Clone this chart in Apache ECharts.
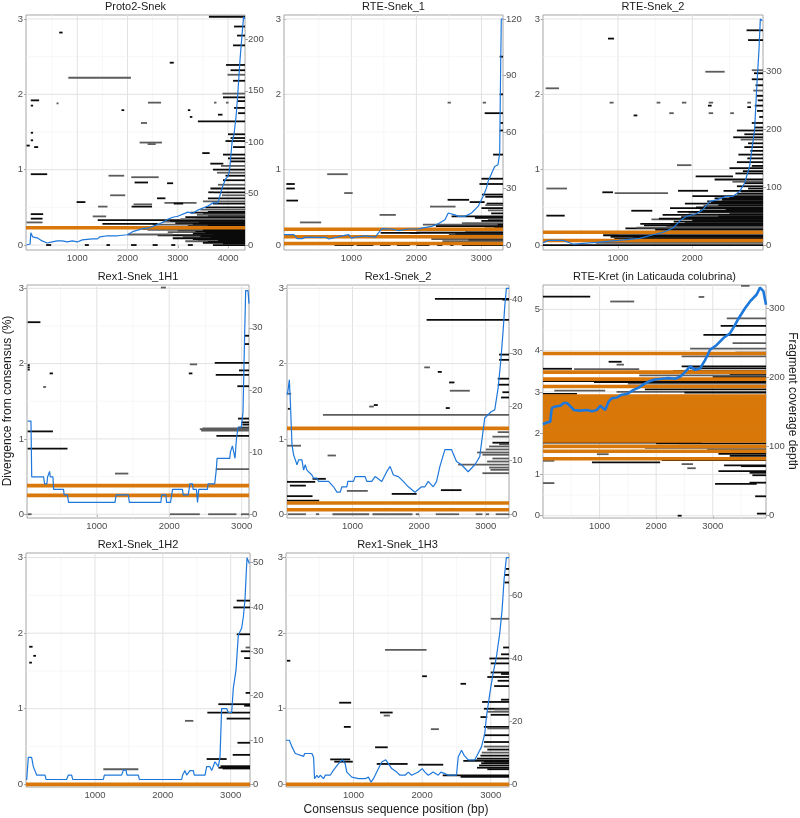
<!DOCTYPE html>
<html>
<head>
<meta charset="utf-8">
<script src="https://cdn.jsdelivr.net/npm/echarts@6/dist/echarts.min.js"></script>
<style>
  html, body { margin: 0; padding: 0; background: #fff; }
  #chart { width: 800px; height: 818px; }
</style>
</head>
<body>
<div id="chart"></div>
<script>
// fragments: [start, end, divergence, group]
const proto2Frags = [
  [3620,4340,3.03,0],[640,707,2.82,0],[821,2067,2.22,1],[2840,2920,2.42,0],
  [4120,4340,2.90,0],[4180,4340,2.78,0],[4100,4340,2.65,0],[3960,4340,2.39,0],[4050,4340,2.32,0],[3990,4340,2.26,1],
  [4100,4340,2.18,0],[3890,4340,2.01,1],[3900,4340,1.96,0],[4180,4340,1.91,0],[4120,4340,1.82,0],[4200,4340,1.75,0],
  [74,240,1.92,0],[74,120,1.85,0],[587,627,1.88,1],[1880,1934,1.79,0],[2407,2667,1.89,1],[3200,3250,1.79,0],
  [3240,3290,1.70,0],[3720,3770,1.89,1],[3960,4010,1.89,1],[3800,3890,1.73,0],[3400,4340,1.64,0],[2267,2387,1.62,1],
  [74,120,1.49,0],[74,120,1.39,0],[-10,54,1.32,0],[141,221,1.30,0],[2240,2687,1.36,1],[2400,2560,1.34,1],
  [3487,3634,1.22,0],[3647,3907,1.08,0],
  [4000,4340,1.47,0],[4050,4340,1.42,0],[3950,4340,1.38,0],[4100,4340,1.30,0],[3900,4340,1.20,0],[4000,4340,1.15,0],
  [4050,4340,1.11,0],[3860,4340,1.05,1],[3700,4340,1.00,0],[3780,4340,0.96,1],[3950,4340,0.92,0],[3900,4340,0.86,0],
  [3800,4340,0.80,1],[3650,4340,0.75,0],[3720,4340,0.70,0],[3880,4340,0.66,1],[3600,4340,0.62,0],[3500,4340,0.58,1],
  [3700,4340,0.55,0],[3550,4340,0.50,0],[3450,4340,0.47,1],[3600,4340,0.44,0],
  [74,401,0.94,0],[1621,1934,0.92,1],[2074,2620,0.90,1],[2140,2407,0.83,0],[2787,2907,0.82,0],[987,1161,0.57,0],
  [1654,1954,0.66,1],[1414,1601,0.51,1],[2081,2487,0.51,0],[2120,2487,0.54,1],[2587,2754,0.62,0],[2734,3374,0.56,1],
  [2920,3107,0.55,0],[3607,3720,0.70,0],[74,321,0.41,0],[74,308,0.35,0],[-10,308,0.30,1],[1307,1574,0.38,1],
  [1407,4340,0.33,0],
  [2700,4340,0.31,1],[2950,4340,0.29,0],[2500,4340,0.27,1],[3200,4340,0.25,0],[2300,4340,0.21,1],[3000,4340,0.19,0],
  [2800,4340,0.17,1],[3300,4340,0.15,0],[2600,4340,0.13,0],[3100,4340,0.11,1],[2900,4340,0.09,0],[3400,4340,0.07,0],
  [3150,4340,0.05,1],[3500,4340,0.03,0],[3600,4340,0.39,0],[3350,4340,0.36,1],[3500,4340,0.41,0],[1500,2600,0.28,0],
  [3250,4340,0.43,0],[3380,4340,0.40,1],[3150,4340,0.37,0],[3050,4340,0.345,1],[2850,4340,0.32,0],[3420,4340,0.30,0],
  [3300,4340,0.28,0],[3600,4340,0.26,0],[3250,4340,0.23,0],[3450,4340,0.20,0],[3350,4340,0.18,0],[3550,4340,0.16,0],
  [3700,4340,0.14,0],[3450,4340,0.12,0],[3650,4340,0.10,0],[3300,4340,0.08,0],[3800,4340,0.06,0],[3600,4340,0.04,0],
  [3900,4340,0.02,0],[2100,3300,0.24,1],[2400,3500,0.20,1],[2000,2900,0.14,1],
  [380,480,0,0],[1150,1230,0,0],[1580,1650,0,0],[2070,2180,0,0],[2500,2600,0,0],[2870,2950,0,0],[3200,3300,0,0],[3700,4340,0,0]
];
const proto2Full = [0.23];
// coverage: [position, depth]
const proto2Cover = [
  [-10,0],[60,1],[75,12],[100,12],[110,8],[200,7],[300,4],[400,2],[500,3],[600,4],[700,4],[800,3],[900,4],[1000,3],
  [1100,5],[1300,6],[1400,6],[1450,8],[1600,9],[1800,9],[2000,10],[2100,13],[2300,16],[2450,17],[2500,18],[2700,22],
  [2800,25],[2900,27],[3000,28],[3200,32],[3300,31],[3400,34],[3500,36],[3600,38],[3700,41],[3800,41],[3850,50],
  [3900,58],[3950,64],[4000,67],[4030,72],[4080,100],[4120,108],[4160,125],[4190,144],[4240,181],[4280,205],[4310,222],[4335,220]
];

const rte1Frags = [
  [0,130,0.81,0],[0,130,0.75,0],[0,180,0.59,0],[209,536,0.30,1],[628,944,0.94,1],[890,1020,0.69,1],[1434,1684,0.40,1],
  [2480,2530,1.89,1],[3020,3070,1.89,1],[3050,3332,1.75,0],[3280,3332,2.50,0],[3280,3332,2.00,0],[3290,3332,1.62,0],
  [3280,3332,1.52,0],[3180,3332,1.20,0],[3000,3332,0.88,0],[2970,3332,0.81,0],[3010,3332,0.67,0],[3060,3332,0.64,0],
  [3080,3332,0.55,0],[3060,3332,0.53,1],[3000,3332,0.49,0],[3100,3332,0.46,1],[2209,2602,0.51,1],[2480,2811,0.60,0],
  [2820,3050,0.57,0],[2541,3332,0.38,0],[2900,3332,0.36,0],[3100,3332,0.34,1],[3000,3332,0.32,0],[3200,3332,0.24,0],
  [3050,3332,0.22,0],[2900,3332,0.20,0],[2750,3332,0.18,1],[2600,3332,0.15,1],[2500,3332,0.13,0],[1900,3332,0.16,0],
  [2650,3332,0.10,0],[2230,3332,0.08,1],[2800,3332,0.06,0],[2400,3332,0.05,1],[1450,2050,0.16,0],
  [2100,3332,0.27,1],[2300,3332,0.25,0],[2700,3332,0.29,1],[2000,3332,0.19,1],[2850,3332,0.12,0],[3150,3332,0.42,0],
  [3250,3332,0.27,0],
  [740,1036,0,0],[1080,1340,0,0],[1440,1600,0,0],[1700,1900,0,0],[2000,2200,0,0],[2320,2400,0,0],[2520,2570,0,0],[2700,3332,0,0]
];
const rte1Full = [0.21, 0.11, 0.02];
const rte1Cover = [
  [-36,5.5],[117,5.5],[168,3.4],[244,3.4],[296,4.2],[602,4.1],[653,3.2],[857,4.9],[959,5.5],[1000,3.7],[1061,4.2],
  [1214,4.9],[1367,4.2],[1469,8.7],[1622,8.5],[1724,7.6],[1878,8.5],[2031,8.5],[2082,9],[2235,9.9],[2337,11.3],
  [2439,13.4],[2490,17],[2592,16],[2643,15.2],[2745,15.2],[2847,17],[2949,20.5],[3025,25.8],[3077,30.2],[3102,33.7],
  [3204,41.7],[3255,42.6],[3281,48.8],[3296,94.7],[3306,120],[3332,120]
];

const rte2Frags = [
  [865,946,2.74,0],[27,206,2.08,1],[887,940,1.89,1],[1210,1260,1.72,0],[1520,1570,1.89,1],[1690,1750,1.75,1],
  [1860,1920,1.89,1],[2220,2280,1.89,1],[2210,2260,1.85,0],[2220,2280,1.75,1],[2510,2560,1.75,1],[2740,2790,1.89,1],
  [2740,2790,1.83,0],[2175,2435,2.30,1],[2730,2951,2.85,0],[2750,2951,2.72,0],[2800,2951,2.32,1],[2830,2951,2.28,0],
  [2800,2951,2.20,0],[2850,2951,2.12,0],[2820,2951,2.05,1],[2860,2951,1.98,0],[2880,2951,1.92,0],[2840,2951,1.85,0],
  [2870,2951,1.78,0],[2900,2951,1.70,0],[2800,2951,1.62,0],[2840,2951,1.56,0],[2600,2951,1.52,0],[2700,2951,1.47,0],
  [2550,2951,1.43,0],[2650,2951,1.40,1],[2750,2951,1.35,0],[2700,2951,1.30,0],[2780,2951,1.25,0],[2620,2951,1.20,0],
  [2740,2951,1.15,0],[2600,2951,1.10,0],[2800,2951,1.05,0],[2500,2951,1.02,0],[2680,2951,0.98,0],[2580,2951,0.95,0],
  [2045,2547,0.91,0],[2300,2951,0.87,0],[2540,2951,0.84,1],[2700,2951,0.82,0],[2600,2951,0.78,0],[2750,2951,0.75,0],
  [2420,2951,0.72,0],[1794,1987,1.06,1],[36,314,0.75,1],[36,283,0.39,0],[789,933,0.70,0],[955,1673,0.69,1],
  [1807,2211,0.72,0],[1179,1462,0.455,0],[2000,2951,0.65,0],[2300,2951,0.62,0],[2200,2951,0.58,0],[1900,2951,0.55,0],
  [2150,2951,0.52,1],[1700,2951,0.49,0],[2100,2951,0.46,0],[1950,2951,0.43,1],[1600,2951,0.40,0],[1850,2951,0.37,0],
  [1450,2951,0.34,1],[1750,2951,0.31,0],[1300,2951,0.28,0],[1650,2951,0.25,1],[1100,2951,0.22,0],[1500,2951,0.20,0],
  [800,2951,0.13,0],[1200,2951,0.10,1],[950,2951,0.08,0],[700,2951,0.03,1],[2400,2951,0.60,0],[2250,2951,0.56,0],
  [2050,2951,0.50,0],[1800,2951,0.44,0],[1550,2951,0.35,0],[1350,2951,0.26,0],[2600,2951,0.68,0],[2450,2951,0.47,0],
  [1250,2951,0.23,1],[1900,2951,0.29,0],[1000,2951,0.15,1],[2500,2951,0.41,0],[2350,2951,0.38,0],
  [1350,2951,0.17,0],[1600,2951,0.18,1],[2000,2951,0.33,0],[2200,2951,0.36,0],[1700,2951,0.27,0],[2650,2951,0.71,0],
  [2500,2951,0.63,0],[2350,2951,0.53,0],[900,2951,0.11,0],[1150,2951,0.12,0],
  [-9,798,0,0],[798,2951,0,0]
];
const rte2Full = [0.17, 0.06];
const rte2Cover = [
  [-9,3.4],[58,8],[260,8],[395,1.7],[709,4.6],[1000,8],[1291,11.5],[1471,17.8],[1605,21.8],[1740,29.3],[1852,43.7],
  [1919,49.4],[2054,54],[2143,61],[2233,75],[2323,78],[2457,84],[2547,84],[2637,92.5],[2704,107],[2771,136],
  [2838,199],[2870,279],[2897,337],[2915,390],[2942,387]
];

const rex1h1Frags = [
  [46,222,2.55,0],[46,75,1.98,0],[46,75,1.95,0],[46,75,1.92,0],[349,395,1.87,0],[260,300,1.69,1],[46,395,1.10,0],
  [46,596,0.87,0],[1252,1436,0.54,1],[1885,1954,3.01,1],[2284,2385,1.99,1],[2270,2320,1.87,0],[2628,3101,2.01,0],
  [2642,3101,1.85,0],[2963,3101,1.91,0],[2940,3101,1.70,0],[3041,3101,2.37,0],[3041,3101,2.26,0],[2950,3101,1.27,0],
  [3000,3101,1.22,0],[3010,3101,1.19,0],[2950,3101,1.15,0],[2422,3101,1.13,1],[2440,3101,1.11,1],[2460,3101,1.14,1],
  [2651,3101,1.04,0],[2642,3101,0.60,1],[2009,2422,0,1],[2537,2927,0,1],[2990,3101,0,1],[46,100,0,1]
];
const rex1h1Full = [0.38, 0.25];
const rex1h1Cover = [
  [46,15],[92,15],[102,6],[266,6],[280,4.9],[312,4.9],[321,6],[349,6.9],[358,6],[395,6],[404,4],[541,4],[550,3.1],
  [596,3.1],[610,1.9],[1252,1.9],[1266,3.1],[1436,3.1],[1450,1.9],[1885,1.9],[1894,3.1],[1954,3.1],[1963,1.9],
  [2018,1.9],[2046,4],[2183,4],[2193,3.1],[2261,3.1],[2275,4],[2284,4.9],[2321,4.9],[2330,4],[2376,4],[2390,1.9],
  [2408,4],[2527,4],[2537,4.9],[2628,4.9],[2651,7.3],[2660,9],[2835,9],[2844,10],[2872,11],[2894,11],[2908,9],
  [2927,12],[2949,14],[2995,14],[3018,16.4],[3041,29],[3055,36],[3087,36],[3101,33.9]
];

const rex1s2Frags = [
  [2237,3349,2.86,0],[2112,3349,2.58,0],[3250,3349,2.85,0],[3200,3349,2.12,0],[3200,3349,2.05,0],[3180,3349,1.80,0],
  [3180,3349,1.72,0],[3250,3349,1.62,0],[3230,3349,1.55,0],[2077,2162,1.95,1],[2280,2340,1.89,0],[2450,2530,1.75,0],
  [2461,2761,1.64,1],[2400,2460,1.41,0],[1250,1320,1.43,1],[1320,1380,1.45,0],[556,3349,1.32,1],[30,80,1.60,1],
  [30,60,1.40,0],[17,227,0.91,1],[626,751,0.78,1],[17,441,0.43,0],[60,300,0.38,0],[17,400,0.24,0],[17,500,0.18,0],
  [400,600,0.47,0],[915,1229,0.31,1],[1589,1963,0.27,0],[2327,2636,0.32,0],[2586,3349,0.66,1],[2870,3349,0.82,1],
  [2950,3349,0.545,1],[3070,3349,0.59,1],[3050,3349,0.62,1],[3020,3349,0.70,1],[3100,3349,0.74,1],[2950,3349,0.79,1],
  [3000,3349,0.86,1],[3050,3349,0.90,1],[3200,3349,0.93,1],[3100,3349,1.03,1],[3180,3349,1.09,1],[3100,3349,0.95,0],
  [30,300,0,1],[450,500,0,1],[700,1250,0,1],[1300,1900,0,1],[1950,2000,0,1],[2250,2600,0,1],[2850,2950,0,1],
  [3000,3050,0,1],[3150,3349,0,1]
];
const rex1s2Full = [1.14, 0.15, 0.06];
const rex1s2Cover = [
  [17,22.2],[32,23],[52,25],[67,21],[92,12.9],[117,11],[142,10.1],[167,9.2],[192,10.1],[241,10.1],[266,8.2],[291,9.2],
  [316,8.2],[391,7.3],[416,6.7],[466,6.7],[491,6.1],[641,6.1],[716,5.1],[766,4.1],[816,4.1],[841,5.1],[915,5.1],
  [930,6.1],[1015,6.1],[1040,7],[1190,7],[1214,6.1],[1289,6.1],[1339,7],[1439,6.1],[1514,7.9],[1564,8.9],[1614,7.3],
  [1688,7],[1763,6.1],[1838,5.1],[1938,4.1],[2037,5.1],[2087,5.1],[2137,6.1],[2212,5.1],[2262,6.1],[2312,8.9],
  [2387,12],[2487,12],[2561,9.8],[2636,9.2],[2736,7.9],[2836,9.2],[2910,10.7],[2985,17.9],[3085,19.1],[3135,19.4],
  [3185,23.4],[3225,28.4],[3260,34],[3285,38.6],[3310,42],[3349,42]
];

const kretFrags = [
  [0,835,5.31,0],[1188,1612,5.19,1],[2750,2850,5.30,1],[3500,3650,5.57,1],[3247,3941,4.78,1],[3140,3941,4.60,0],
  [2835,3941,4.38,0],[3350,3941,4.18,1],[2600,3941,4.05,1],[3400,3941,3.95,0],[2450,3941,3.86,1],[1160,1390,3.73,0],
  [1300,1430,3.66,1],[0,512,3.56,0],[550,1700,3.55,1],[2450,3941,3.62,0],[2600,3941,3.57,0],[2300,3941,3.50,0],
  [1700,3941,3.40,1],[0,2000,3.26,0],[200,1100,3.03,1],[0,600,2.95,0],[1300,3941,3.00,1],[1800,3941,3.06,0],
  [2500,3941,2.98,0],[2000,3941,3.12,1],[1500,3941,3.20,1],[900,3941,3.24,0],[3000,3941,3.36,0],[3300,3941,3.44,0],
  [1300,3941,2.85,0],[2200,3941,2.75,1],[0,3941,1.98,0],[1000,3941,2.40,1],[2800,3941,2.20,0],[3200,3941,2.55,0],
  [0,2800,1.77,0],[2000,3941,1.75,0],[2400,3941,1.70,1],[1800,3941,1.65,0],[2900,3941,1.60,1],[2700,3941,1.55,0],
  [3100,3941,1.50,0],[3300,3941,1.45,0],[3450,3941,1.40,1],[2100,3941,1.35,0],[865,2070,1.29,0],[953,1159,1.49,1],
  [0,200,1.33,1],[2450,2650,1.25,1],[2550,2700,1.15,1],[3200,3941,1.22,0],[3500,3941,1.20,0],[3100,3941,1.08,0],
  [3650,3941,1.04,0],[3700,3941,0.98,0],[0,200,0.79,1],[3041,3776,0.77,0],[3650,3941,0.80,0],[3750,3941,0.47,0],
  [2380,2450,0,0],[3780,3941,0.05,0]
];
const kretFull = [
  3.93,3.48,3.31,3.13,2.90,2.87,2.84,2.80,2.77,2.73,2.70,2.66,2.63,2.56,2.53,2.49,2.46,2.42,2.39,2.35,2.32,2.28,
  2.25,2.21,2.18,2.14,2.11,2.07,2.04,2.01,1.94,1.91,1.88,1.81,1.68,1.56,1.38
];
const kretCover = [
  [0,132],[41,134],[129,136],[141,147],[159,156],[218,158],[306,159],[365,163],[424,163],[512,156],[541,153],
  [659,152],[776,153],[865,151],[953,153],[1012,159],[1100,153],[1159,165],[1218,170],[1306,171],[1394,175],
  [1482,176],[1600,182],[1688,185],[1776,190],[1865,194],[1982,197],[2100,198],[2218,199],[2335,198],[2423,201],
  [2512,208],[2600,216],[2688,211],[2776,213],[2864,225],[2953,240],[3070,247],[3188,257],[3306,264],[3394,276],
  [3453,285],[3570,300],[3659,310],[3776,320],[3835,330],[3894,325],[3941,305]
];

const rex1h2Frags = [
  [30,80,1.82,0],[90,130,1.70,0],[30,70,1.61,0],[1123,1639,0.20,1],[2327,2450,0.84,1],[2646,2941,0.335,0],
  [2820,3285,0.22,0],[2850,3285,0.24,0],[2880,3285,0.21,0],[3030,3285,0.39,0],[3100,3285,0.55,0],[2656,3285,0.95,0],
  [2818,3285,1.06,0],[2941,3285,0.87,0],[3200,3285,1.04,0],[3220,3285,1.21,0],[3200,3285,1.67,0],[3220,3285,1.81,1],
  [3150,3285,1.76,0],[3089,3285,1.985,0],[3039,3285,2.34,0],[3089,3285,2.43,0]
];
const rex1h2Full = [0];
const rex1h2Cover = [
  [-7,1],[17,6.1],[66,6.1],[91,4],[115,4],[140,2.1],[263,2.1],[278,1.1],[582,1.1],[607,2.1],[656,2.1],[671,1.1],
  [1123,1.1],[1138,2.1],[1393,2.1],[1418,3.2],[1457,3.2],[1472,2.1],[1639,2.1],[1654,1.1],[2278,1.1],[2292,2.1],
  [2327,3.1],[2351,2.1],[2400,3.1],[2450,3.1],[2464,2.1],[2622,2.1],[2646,4],[2695,4],[2720,3.1],[2745,3.1],
  [2769,5.1],[2818,4],[2843,6.2],[2867,17.1],[2941,17.1],[2966,16.2],[3015,16.2],[3039,21.7],[3079,25.8],
  [3113,33.7],[3138,33.7],[3162,35.2],[3187,37.8],[3211,41.6],[3226,46.5],[3241,51.1],[3275,49.8]
];

const rex1h3Frags = [
  [30,80,1.635,0],[792,966,1.08,0],[860,960,0.76,0],[661,952,0.33,0],[720,990,0.30,0],[1315,1499,0.49,0],
  [1387,1571,0.95,0],[1440,1530,0.91,1],[1339,1789,0.27,0],[1460,2065,1.78,1],[2000,2070,1.43,0],[1944,2308,0.26,0],
  [2128,2245,0.73,1],[2560,2640,1.33,0],[2300,3266,0.12,0],[2560,3266,0.10,0],[2903,3266,0.56,0],[2900,3266,0.50,1],
  [2950,3266,0.46,0],[2870,3266,0.42,1],[2850,3266,0.38,0],[2800,3266,0.34,0],[2760,3266,0.32,1],[2900,3266,0.30,0],
  [2860,3266,0.28,0],[2830,3266,0.25,0],[2800,3266,0.22,0],[2950,3266,0.20,0],[2600,3266,0.31,0],[2850,2950,0.89,0],
  [2900,3266,1.00,0],[2950,3266,0.96,1],[3000,3266,0.92,0],[2900,3266,0.76,0],[2950,3266,0.74,1],[3050,3266,0.99,1],
  [2900,3266,0.65,0],[2950,3266,1.42,0],[3100,3266,1.37,0],[3000,3266,1.48,0],[3150,3266,1.46,0],[3000,3266,1.60,0],
  [2980,3266,1.665,0],[3150,3266,1.72,0],[3180,3266,1.81,0],[3000,3266,2.19,1],[3200,3266,2.77,0],[3220,3266,2.85,0],
  [3200,3266,2.67,0],[3050,3266,1.30,0],[3150,3266,1.12,0],[2874,3266,1.09,0]
];
const rex1h3Full = [0];
const rex1h3Cover = [
  [17,14],[66,14],[104,11.9],[153,9.8],[274,8.9],[289,9.8],[395,9.8],[419,8.5],[433,1.8],[467,2.9],[491,2.1],
  [516,2.9],[564,1.8],[588,2.9],[661,2.9],[709,4.5],[782,6.6],[840,7.8],[879,6.6],[903,3.9],[976,2.3],[1073,1.8],
  [1170,1.8],[1218,2.3],[1257,0.7],[1291,1.8],[1339,3.9],[1412,7.1],[1470,7.8],[1509,6.6],[1557,5],[1630,3.9],
  [1678,2.9],[1751,2.9],[1799,3.9],[1848,2.9],[1944,3.9],[2002,5],[2041,3.9],[2090,2.9],[2162,3.9],[2235,2.9],
  [2274,3.9],[2332,3.4],[2380,2.9],[2501,2.9],[2526,8.7],[2574,10.8],[2613,9.2],[2671,7.8],[2768,7.8],[2816,9.8],
  [2865,11.9],[2913,16.1],[2937,21.4],[2986,28.8],[3034,35.2],[3083,40.5],[3131,47.9],[3165,55.3],[3194,64.9],
  [3228,72],[3266,72]
];

const panelNames = ['Proto2-Snek','RTE-Snek_1','RTE-Snek_2','Rex1-Snek_1H1','Rex1-Snek_2',
  'RTE-Kret (in Laticauda colubrina)','Rex1-Snek_1H2','Rex1-Snek_1H3'];
const fragSets = [proto2Frags, rte1Frags, rte2Frags, rex1h1Frags, rex1s2Frags, kretFrags, rex1h2Frags, rex1h3Frags];
const fullSets = [proto2Full, rte1Full, rte2Full, rex1h1Full, rex1s2Full, kretFull, rex1h2Full, rex1h3Full];
const coverSets = [proto2Cover, rte1Cover, rte2Cover, rex1h1Cover, rex1s2Cover, kretCover, rex1h2Cover, rex1h3Cover];

// axis ranges and tick labels
const xRange = [[-21,4338],[-36,3332],[-9,2951],[37,3101],[17,3349],[0,3941],[-17,3285],[17,3266]];
const yRange = [[-0.066,3.053],[-0.066,3.053],[-0.066,3.053],[-0.05,3.044],[-0.05,3.044],[-0.056,5.59],[-0.035,3.06],[-0.035,3.06]];
const depthPerUnit = [73.3, 40, 130, 12.12, 14, 59.7, 17.05, 24];
const xTicks = [[1000,2000,3000,4000],[1000,2000,3000],[1000,2000],[1000,2000,3000],[1000,2000,3000],[1000,2000,3000],[1000,2000,3000],[1000,2000,3000]];
const yTicks = [[0,1,2,3],[0,1,2,3],[0,1,2,3],[0,1,2,3],[0,1,2,3],[0,1,2,3,4,5],[0,1,2,3],[0,1,2,3]];
const depthTicks = [[0,50,100,150,200],[0,30,60,90,120],[0,100,200,300],[0,10,20,30],[0,10,20,30,40],[0,100,200,300],[0,10,20,30,40,50],[0,20,40,60]];

// layout [left, top, width, height]
const boxes = [
  [26,15,219,235],[284,15,219,235],[543,15,220,235],
  [27,285,222,233],[287,285,222,233],[543,285,223,233],
  [26,553,224,234],[286,553,223,234]
];

const FONT = '"Liberation Sans", Arial, Helvetica, sans-serif';
const LABEL = '#4d4d4d';
const ORANGE = '#D9780A';
const BLUE = '#1E78DC';

let chart = echarts.init(document.getElementById('chart'));

let grid = [], xAxis = [], yAxis = [], series = [], graphic = [];

boxes.forEach((b, i) => {
  grid.push({left: b[0], top: b[1], width: b[2], height: b[3], show: true,
    backgroundColor: '#fff', borderColor: '#a6a6a6', borderWidth: 1});
  const tickStyle = {length: 3, lineStyle: {color: '#a6a6a6', width: 1}};
  const labelStyle = {color: LABEL, fontSize: 9.5, fontFamily: FONT, formatter: v => String(v)};
  xAxis.push({gridIndex: i, type: 'value', min: xRange[i][0], max: xRange[i][1],
    axisLine: {show: false}, splitLine: {show: false},
    axisTick: Object.assign({customValues: xTicks[i]}, tickStyle),
    axisLabel: Object.assign({customValues: xTicks[i], margin: 3}, labelStyle)});
  yAxis.push({gridIndex: i, type: 'value', position: 'left', min: yRange[i][0], max: yRange[i][1],
    axisLine: {show: false}, splitLine: {show: false},
    axisTick: Object.assign({customValues: yTicks[i]}, tickStyle),
    axisLabel: Object.assign({customValues: yTicks[i], margin: 3}, labelStyle)});
  const k = depthPerUnit[i];
  yAxis.push({gridIndex: i, type: 'value', position: 'right', min: yRange[i][0] * k, max: yRange[i][1] * k,
    axisLine: {show: false}, splitLine: {show: false},
    axisTick: Object.assign({customValues: depthTicks[i]}, tickStyle),
    axisLabel: Object.assign({customValues: depthTicks[i], margin: 3}, labelStyle)});

  // grid lines (major at ticks, minor halfway)
  const gl = [];
  xTicks[i].forEach(v => gl.push([v, 0, 1]));
  [xTicks[i][0] - 500].concat(xTicks[i].map(v => v + 500)).forEach(v => {
    if (v > xRange[i][0] && v < xRange[i][1]) gl.push([v, 0, 0]);
  });
  yTicks[i].forEach(v => { gl.push([v, 1, 1]); if (v + 0.5 < yRange[i][1]) gl.push([v + 0.5, 1, 0]); });
  series.push({type: 'custom', xAxisIndex: i, yAxisIndex: 2 * i, z: 1, silent: true, data: gl,
    renderItem: (p, api) => {
      const v = api.value(0);
      let a, c;
      if (api.value(1)) { a = api.coord([xRange[i][0], v]); c = api.coord([xRange[i][1], v]); }
      else { a = api.coord([v, yRange[i][0]]); c = api.coord([v, yRange[i][1]]); }
      const major = api.value(2);
      return {type: 'line', shape: {x1: a[0], y1: a[1], x2: c[0], y2: c[1]},
        style: {stroke: major ? '#e2e2e2' : '#f1f1f1', lineWidth: major ? 1 : 0.6}};
    }});

  // fragments
  series.push({type: 'custom', xAxisIndex: i, yAxisIndex: 2 * i, z: 2, clip: true, silent: true,
    data: fragSets[i],
    renderItem: (p, api) => {
      const a = api.coord([api.value(0), api.value(2)]);
      const c = api.coord([api.value(1), api.value(2)]);
      return {type: 'line', shape: {x1: a[0], y1: a[1], x2: c[0], y2: c[1]},
        style: {stroke: api.value(3) ? '#5c5c5c' : '#0a0a0a', lineWidth: 1.8}};
    }});

  // full-length fragments
  series.push({type: 'custom', xAxisIndex: i, yAxisIndex: 2 * i, z: 3, clip: true, silent: true,
    data: fullSets[i].map(v => [xRange[i][0], xRange[i][1], v]),
    renderItem: (p, api) => {
      const a = api.coord([api.value(0), api.value(2)]);
      const c = api.coord([api.value(1), api.value(2)]);
      return {type: 'line', shape: {x1: a[0], y1: a[1], x2: c[0], y2: c[1]},
        style: {stroke: ORANGE, lineWidth: 3.6}};
    }});

  // coverage depth
  series.push({type: 'line', xAxisIndex: i, yAxisIndex: 2 * i + 1, z: 4, silent: true,
    data: coverSets[i], showSymbol: false, symbol: 'none',
    lineStyle: {color: BLUE, width: i === 5 ? 2.6 : 1.2}});

  graphic.push({type: 'text', x: b[0] + b[2] / 2, y: b[1] - 8,
    style: {text: panelNames[i], fill: '#1a1a1a', fontSize: 11, fontFamily: FONT,
      align: 'center', verticalAlign: 'middle', textAlign: 'center', textVerticalAlign: 'middle'}});
});

graphic.push({type: 'text', x: 8, y: 401, rotation: Math.PI / 2,
  style: {text: 'Divergence from consensus (%)', fill: '#1a1a1a', fontSize: 12, fontFamily: FONT,
    align: 'center', verticalAlign: 'middle', textAlign: 'center', textVerticalAlign: 'middle'}});
graphic.push({type: 'text', x: 396, y: 810,
  style: {text: 'Consensus sequence position (bp)', fill: '#1a1a1a', fontSize: 12, fontFamily: FONT,
    align: 'center', verticalAlign: 'middle', textAlign: 'center', textVerticalAlign: 'middle'}});
graphic.push({type: 'text', x: 792, y: 401, rotation: -Math.PI / 2,
  style: {text: 'Fragment coverage depth', fill: '#1a1a1a', fontSize: 12, fontFamily: FONT,
    align: 'center', verticalAlign: 'middle', textAlign: 'center', textVerticalAlign: 'middle'}});

chart.setOption({
  animation: false,
  backgroundColor: '#fff',
  grid: grid,
  xAxis: xAxis,
  yAxis: yAxis,
  series: series,
  graphic: graphic
});
</script>
</body>
</html>
